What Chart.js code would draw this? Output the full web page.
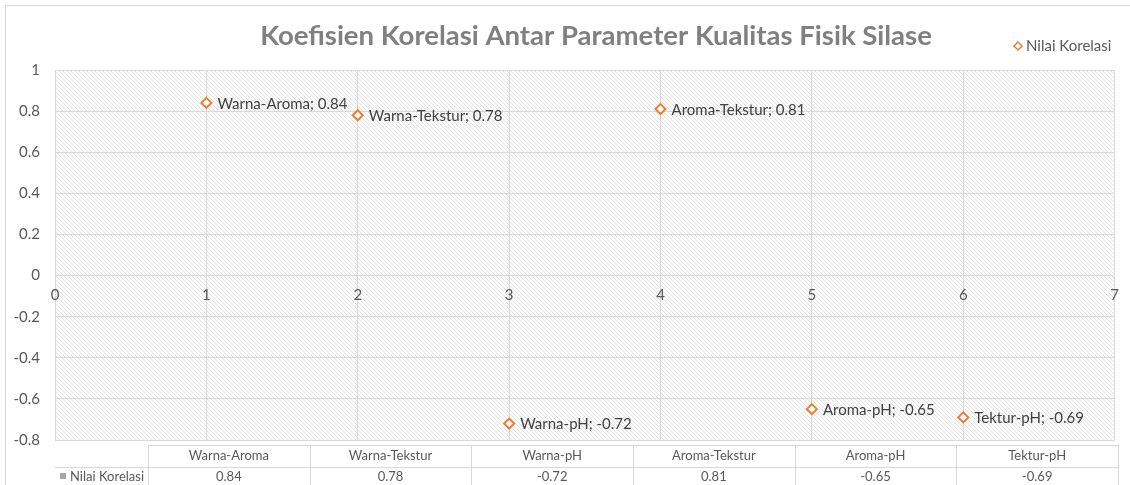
<!DOCTYPE html>
<html>
<head>
<meta charset="utf-8">
<script src="https://cdn.jsdelivr.net/npm/chart.js@4"></script>
<style>
  body { margin: 0; background: #fff; }
  #wrap { width: 1130px; height: 485px; }
</style>
</head>
<body>
<div id="wrap"><canvas id="korelasiChart" width="1130" height="485"></canvas></div>
<script>
// data
const categories = ["Warna-Aroma", "Warna-Tekstur", "Warna-pH", "Aroma-Tekstur", "Aroma-pH", "Tektur-pH"];
const xPositions = [1, 2, 3, 4, 5, 6];
const nilaiKorelasi = [0.84, 0.78, -0.72, 0.81, -0.65, -0.69];
const xTicks = [0, 1, 2, 3, 4, 5, 6, 7];
const yTicks = [-0.8, -0.6, -0.4, -0.2, 0, 0.2, 0.4, 0.6, 0.8, 1];
const seriesName = "Nilai Korelasi";
const chartTitle = "Koefisien Korelasi Antar Parameter Kualitas Fisik Silase";

const orange = "#ED7D31";
const gridColor = "#d9d9d9";
const FONT = "Lato, 'Open Sans', sans-serif";

Chart.defaults.font.family = FONT;
Chart.defaults.color = "#595959";

// diagonal hatch for the plot area
const hatch = (() => {
  const c = document.createElement('canvas');
  c.width = 4; c.height = 4;
  const g = c.getContext('2d');
  g.fillStyle = '#ffffff';
  g.fillRect(0, 0, 4, 4);
  g.strokeStyle = '#e1e1e1';
  g.lineWidth = 1;
  g.beginPath();
  g.moveTo(-1, -1); g.lineTo(5, 5);
  g.stroke();
  return c;
})();

function diamond(ctx, x, y, r) {
  ctx.beginPath();
  ctx.moveTo(x, y - r);
  ctx.lineTo(x + r, y);
  ctx.lineTo(x, y + r);
  ctx.lineTo(x - r, y);
  ctx.closePath();
}

const backdrop = {
  id: 'backdrop',
  beforeDraw(chart) {
    const { ctx, chartArea: a } = chart;
    ctx.save();
    ctx.fillStyle = '#fff';
    ctx.fillRect(0, 0, chart.width, chart.height);
    ctx.strokeStyle = gridColor;
    ctx.lineWidth = 1;
    ctx.beginPath();
    ctx.moveTo(5.5, chart.height);
    ctx.lineTo(5.5, 5.5);
    ctx.lineTo(chart.width, 5.5);
    ctx.stroke();
    ctx.fillStyle = ctx.createPattern(hatch, 'repeat');
    ctx.fillRect(a.left, a.top, a.right - a.left, a.bottom - a.top);
    ctx.restore();
  }
};

const extras = {
  id: 'extras',
  afterDatasetsDraw(chart) {
    const { ctx } = chart;
    const meta = chart.getDatasetMeta(0);
    ctx.save();
    ctx.font = "15px " + FONT;
    ctx.fillStyle = "#404040";
    ctx.textAlign = "left";
    ctx.textBaseline = "middle";
    meta.data.forEach((pt, i) => {
      ctx.fillText(categories[i] + "; " + nilaiKorelasi[i], pt.x + 11, pt.y + 1);
    });
    ctx.restore();
  },
  afterDraw(chart) {
    const { ctx } = chart;
    ctx.save();
    // title
    ctx.font = "bold 27.5px " + FONT;
    ctx.fillStyle = "#808080";
    ctx.textAlign = "center";
    ctx.textBaseline = "middle";
    ctx.fillText(chartTitle, 596, 36);

    // legend
    ctx.lineWidth = 1.5;
    ctx.strokeStyle = orange;
    ctx.fillStyle = '#fff';
    diamond(ctx, 1018, 46, 4);
    ctx.fill(); ctx.stroke();
    ctx.font = "15px " + FONT;
    ctx.fillStyle = "#595959";
    ctx.textAlign = "left";
    ctx.fillText(seriesName, 1026, 46);

    // data table
    const top = 445, mid = 467, bot = 490;
    const left = 148, right = 1118;
    const colW = (right - left) / categories.length;
    ctx.strokeStyle = gridColor;
    ctx.lineWidth = 1;
    ctx.beginPath();
    ctx.moveTo(left, top + 0.5); ctx.lineTo(right, top + 0.5);
    ctx.moveTo(55, mid + 0.5); ctx.lineTo(right, mid + 0.5);
    for (let i = 0; i <= categories.length; i++) {
      const x = Math.round(left + i * colW) + 0.5;
      ctx.moveTo(x, top); ctx.lineTo(x, bot);
    }
    ctx.stroke();
    ctx.font = "13px " + FONT;
    ctx.fillStyle = "#595959";
    ctx.textAlign = "center";
    categories.forEach((c, i) => {
      const cx = left + (i + 0.5) * colW;
      ctx.fillText(c, cx, 456);
      ctx.fillText(String(nilaiKorelasi[i]), cx, 477);
    });
    ctx.fillStyle = "#a6a6a6";
    ctx.fillRect(60, 473, 6, 6);
    ctx.fillStyle = "#595959";
    ctx.textAlign = "left";
    ctx.fillText(seriesName, 70, 477);
    ctx.restore();
  }
};

new Chart(document.getElementById('korelasiChart'), {
  type: 'scatter',
  data: {
    datasets: [{
      label: seriesName,
      data: xPositions.map((x, i) => ({ x: x, y: nilaiKorelasi[i] })),
      pointStyle: 'rectRot',
      pointRadius: 5,
      pointBorderWidth: 2,
      pointBorderColor: orange,
      pointBackgroundColor: '#ffffff',
      showLine: false
    }]
  },
  options: {
    responsive: false,
    animation: false,
    layout: { padding: { top: 70, left: 0, right: 13, bottom: 45 } },
    plugins: {
      legend: { display: false },
      title: { display: false },
      tooltip: { enabled: false }
    },
    scales: {
      x: {
        type: 'linear',
        position: { y: 0 },
        min: 0, max: 7,
        afterBuildTicks: s => { s.ticks = xTicks.map(v => ({ value: v })); },
        grid: { color: gridColor, drawTicks: false },
        border: { color: gridColor },
        ticks: { padding: 11, font: { size: 15 }, color: "#595959" }
      },
      y: {
        min: -0.8, max: 1,
        afterBuildTicks: s => { s.ticks = yTicks.map(v => ({ value: v })); },
        afterFit: s => { s.width = 55; },
        grid: { color: gridColor, drawTicks: false },
        border: { display: false },
        ticks: {
          padding: 15, font: { size: 15 }, color: "#595959",
          callback: v => String(v)
        }
      }
    }
  },
  plugins: [backdrop, extras]
});
</script>
</body>
</html>
